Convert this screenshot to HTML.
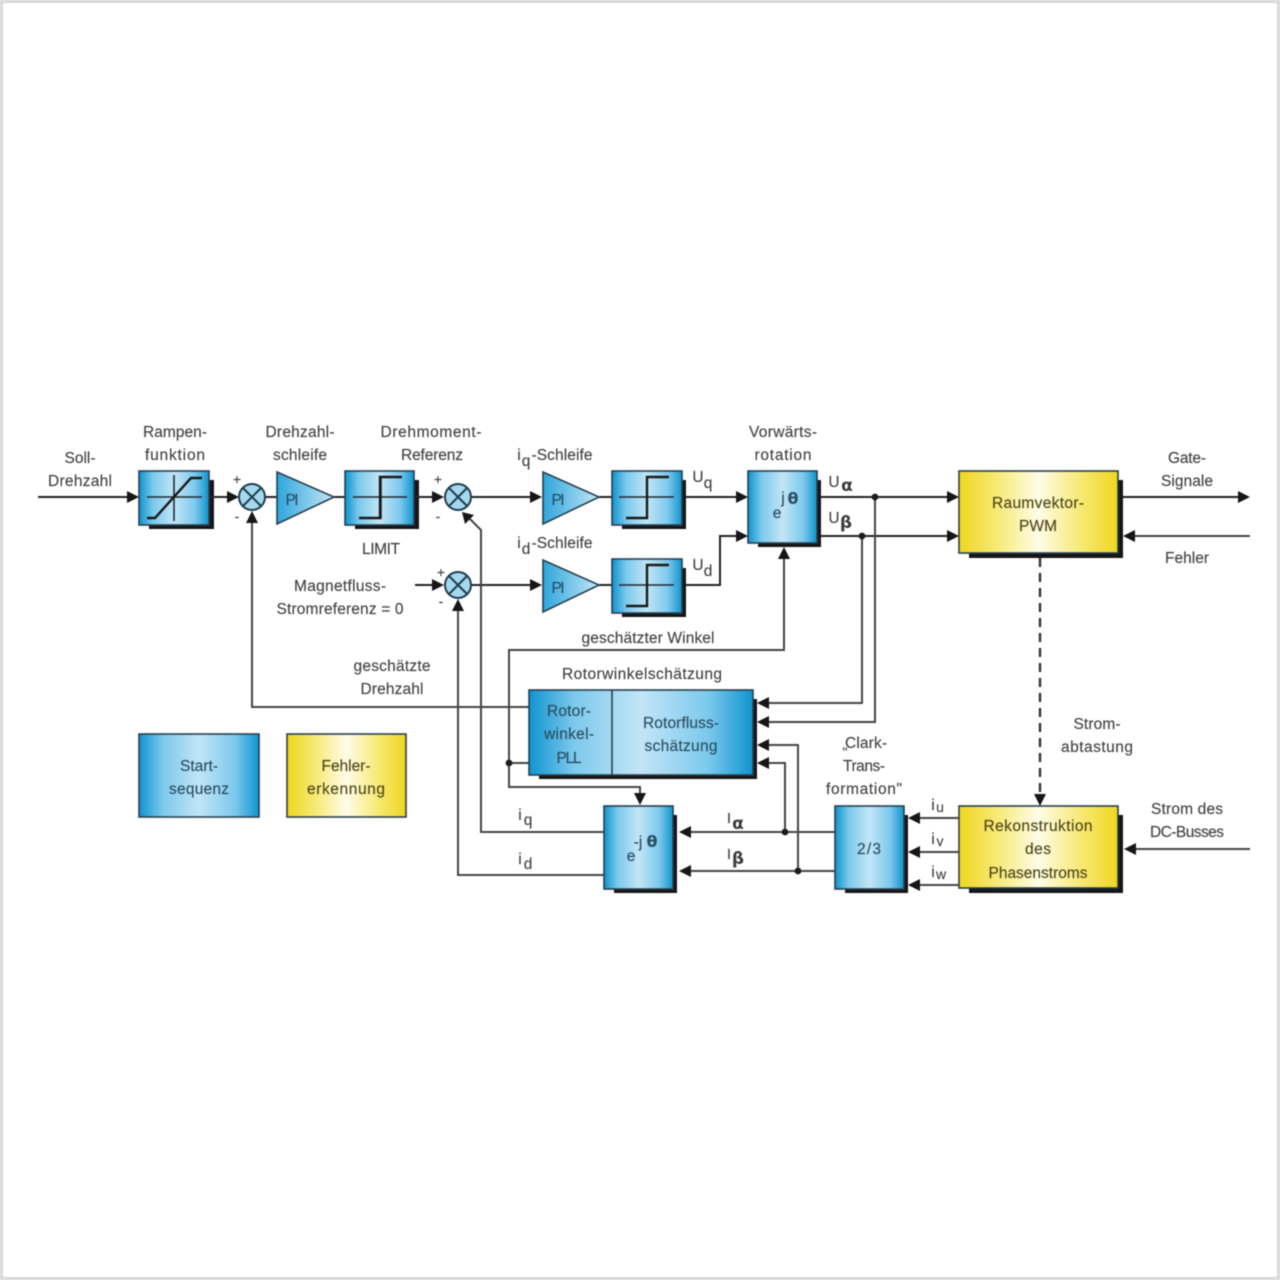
<!DOCTYPE html>
<html><head><meta charset="utf-8"><style>
html,body{margin:0;padding:0;background:#fff}
body{width:1280px;height:1280px;overflow:hidden}
svg{display:block;filter:blur(.55px)}
text{font-family:"Liberation Sans",sans-serif;font-size:15.5px;fill:#444;stroke:#444;stroke-width:.15;text-anchor:middle}
text.b{fill:#2a4f64;stroke:#2a4f64}
text.y{fill:#4f4818;stroke:#4f4818}
.l{fill:none;stroke:#444;stroke-width:2}
.k{fill:none;stroke:#222;stroke-width:2}
.box{stroke:#27404f;stroke-width:1.6}
text.g{font-family:"DejaVu Sans",sans-serif;font-weight:bold;font-size:17px;fill:#3c3c3c;stroke:none}
text.t{font-family:"DejaVu Sans",sans-serif;font-weight:bold;font-size:16px;fill:#2a4f64;stroke:none}
</style></head><body>
<svg width="1280" height="1280" viewBox="0 0 1280 1280" xmlns="http://www.w3.org/2000/svg">
<defs>
<linearGradient id="bl" x1="0" x2="1" y1="0" y2="0"><stop offset="0" stop-color="#0f94d0"/><stop offset=".2" stop-color="#7cc9ec"/><stop offset=".5" stop-color="#c2e5f6"/><stop offset=".8" stop-color="#7cc9ec"/><stop offset="1" stop-color="#0f94d0"/></linearGradient>
<linearGradient id="ye" x1="0" x2="1" y1="0" y2="0"><stop offset="0" stop-color="#efd61e"/><stop offset=".25" stop-color="#f7ea7a"/><stop offset=".5" stop-color="#fffce8"/><stop offset=".75" stop-color="#f7ea7a"/><stop offset="1" stop-color="#efd61e"/></linearGradient>
<linearGradient id="tr" x1="0" x2="1" y1="0" y2="0"><stop offset="0" stop-color="#2ea6dd"/><stop offset="1" stop-color="#c5e6f6"/></linearGradient>
</defs>
<rect x="1.5" y="1.5" width="1277" height="1277" fill="#fff" stroke="#d8d8d8" stroke-width="3"/>

<!-- shadows -->
<g fill="#161616">
<rect x="149" y="480" width="65" height="49"/>
<rect x="355" y="480" width="64" height="49"/>
<rect x="622" y="480" width="64" height="49"/>
<rect x="622" y="568" width="64" height="49"/>
<rect x="758" y="480" width="63" height="67"/>
<rect x="969" y="480" width="154" height="78"/>
<rect x="539" y="699" width="218" height="80"/>
<rect x="614" y="815" width="63" height="78"/>
<rect x="845" y="815" width="63" height="78"/>
<rect x="969" y="815" width="154" height="78"/>
</g>

<!-- connectors -->
<g class="k">
<path d="M38 497H130"/><path d="M209 497H230"/><path d="M265 497H277"/><path d="M334 497H345"/><path d="M414 497H436"/>
<path d="M471 497H533"/><path d="M599 497H612"/><path d="M686 497H738"/>
<path d="M415 585H436"/><path d="M471 585H533"/><path d="M599 585H612"/>
<path d="M686 585H720V536H738"/>
<path d="M821 497H948"/><path d="M821 536H948"/>
<path d="M1123 497H1240"/>
</g>
<g class="l">
<path d="M1133 536H1250"/><path d="M1133 849H1250"/>
<path d="M529 707H252V520"/>
<path d="M784 558V650H509V787H640V795"/>
<path d="M529 763H509"/>
<path d="M604 832H481V530L470 519"/>
<path d="M604 875H458V608"/>
<path d="M835 832H690"/><path d="M835 871H690"/>
<path d="M785 832V763H768"/><path d="M798 871V745H768"/>
<path d="M875 497V722H768"/><path d="M862 536V703H768"/>
<path d="M959 818H918"/><path d="M959 852H918"/><path d="M959 885H918"/>
<path d="M1040 558V796" stroke="#333" stroke-width="2.4" stroke-dasharray="9 6"/>
</g>
<!-- dots -->
<g fill="#1c1c1c">
<circle cx="875" cy="497" r="3.4"/><circle cx="862" cy="536" r="3.4"/>
<circle cx="509" cy="763" r="3.4"/><circle cx="785" cy="832" r="3.4"/><circle cx="798" cy="871" r="3.4"/>
</g>
<!-- arrowheads -->
<g fill="#161616">
<path d="M139 497l-12-6v12z"/><path d="M239 497l-12-6v12z"/><path d="M444 497l-12-6v12z"/>
<path d="M542 497l-12-6v12z"/><path d="M748 497l-12-6v12z"/><path d="M748 536l-12-6v12z"/>
<path d="M444 585l-12-6v12z"/><path d="M542 585l-12-6v12z"/>
<path d="M959 497l-12-6v12z"/><path d="M959 536l-12-6v12z"/><path d="M1250 497l-12-6v12z"/>
<path d="M1123 536l12-6v12z"/><path d="M1124 849l12-6v12z"/>
<path d="M757 703l12-6v12z"/><path d="M757 722l12-6v12z"/><path d="M757 745l12-6v12z"/><path d="M757 763l12-6v12z"/>
<path d="M679 832l12-6v12z"/><path d="M679 871l12-6v12z"/>
<path d="M908 818l12-6v12z"/><path d="M908 852l12-6v12z"/><path d="M908 885l12-6v12z"/>
<path d="M252 511l-6 12h12z"/><path d="M458 599l-6 12h12z"/><path d="M784 547l-6 12h12z"/>
<path d="M640 805l-6-12h12z"/><path d="M1040 806l-6-12h12z"/>
<path d="M462 512l12 3-9 9z"/>
</g>

<!-- blocks -->
<g class="box" fill="url(#bl)">
<rect x="139" y="471" width="70" height="54"/>
<rect x="345" y="471" width="69" height="54"/>
<rect x="612" y="471" width="70" height="54"/>
<rect x="612" y="559" width="70" height="54"/>
<rect x="748" y="471" width="69" height="72"/>
<rect x="529" y="690" width="224" height="85"/>
<rect x="604" y="806" width="69" height="83"/>
<rect x="835" y="806" width="69" height="83"/>
<rect x="139" y="734" width="120" height="83"/>
</g>
<g class="box" fill="url(#ye)">
<rect x="959" y="471" width="159" height="82"/>
<rect x="959" y="806" width="159" height="82"/>
<rect x="287" y="734" width="119" height="83"/>
</g>
<path d="M612 690V775" stroke="#27404f" stroke-width="1.6"/>
<g class="box" fill="url(#tr)">
<path d="M277 472L334 497L277 524Z"/><path d="M543 472L599 497L543 524Z"/><path d="M543 560L599 585L543 612Z"/>
</g>
<!-- sums -->
<g fill="#a5d8ef" stroke="#1f3d4d" stroke-width="2">
<circle cx="252" cy="497" r="13"/><circle cx="458" cy="497" r="13"/><circle cx="458" cy="585" r="13"/>
<path d="M243 488l18 18M261 488l-18 18M449 488l18 18M467 488l-18 18M449 576l18 18M467 576l-18 18" fill="none"/>
</g>
<!-- block glyphs -->
<g fill="none" stroke="#1d2a33" stroke-width="1.6">
<path d="M147 497H202M174 475V521"/><path d="M353 497H407M381 477V519"/>
<path d="M619 497H674M647 477V519"/><path d="M619 585H674M647 565V607"/>
</g>
<g fill="none" stroke="#1a1a1a" stroke-width="2.4">
<path d="M147 518H155L191 478H202"/>
<path d="M359 518H380V477H402"/><path d="M626 518H647V477H669"/><path d="M626 606H647V565H669"/>
</g>

<!-- labels -->
<text x="80" y="463" textLength="31">Soll-</text><text x="80" y="486" textLength="64">Drehzahl</text>
<text x="175" y="437" textLength="64">Rampen-</text><text x="175" y="460" textLength="60">funktion</text>
<text x="300" y="437" textLength="69">Drehzahl-</text><text x="300" y="460" textLength="54">schleife</text>
<text x="431" y="437" textLength="101">Drehmoment-</text><text x="432" y="460" textLength="62">Referenz</text>
<text x="381" y="554" textLength="38">LIMIT</text>
<text x="340" y="591" textLength="92">Magnetfluss-</text><text x="340" y="614" textLength="127">Stromreferenz = 0</text>
<text x="237" y="484" style="font-size:14px">+</text><text x="237" y="521" style="font-size:14px">-</text>
<text x="438" y="484" style="font-size:14px">+</text><text x="438" y="521" style="font-size:14px">-</text>
<text x="441" y="577" style="font-size:14px">+</text><text x="441" y="606" style="font-size:14px">-</text>
<text x="519" y="460">i</text><text x="526" y="466">q</text><text x="562" y="460" textLength="61">-Schleife</text>
<text x="519" y="548">i</text><text x="526" y="554">d</text><text x="562" y="548" textLength="61">-Schleife</text>
<text x="783" y="437" textLength="68">Vorwärts-</text><text x="783" y="460" textLength="57">rotation</text>
<text x="698" y="482">U</text><text x="708" y="488">q</text>
<text x="698" y="570">U</text><text x="708" y="576">d</text>
<text x="834" y="487">U</text><text class="g" x="847" y="491">α</text>
<text x="834" y="523">U</text><text class="g" x="846" y="528">β</text>
<text class="b" x="777" y="518">e</text><text class="b" x="783" y="503">j</text><text class="t" x="793" y="504">θ</text>
<text x="648" y="643" textLength="133">geschätzter Winkel</text>
<text x="392" y="671" textLength="77">geschätzte</text><text x="392" y="694" textLength="63">Drehzahl</text>
<text x="642" y="679" textLength="160">Rotorwinkelschätzung</text>
<text class="b" x="569" y="716" textLength="44">Rotor-</text><text class="b" x="569" y="739" textLength="50">winkel-</text><text class="b" x="569" y="763" textLength="25">PLL</text>
<text class="b" x="681" y="728" textLength="76">Rotorfluss-</text><text class="b" x="681" y="751" textLength="73">schätzung</text>
<text class="b" x="199" y="771" textLength="38">Start-</text><text class="b" x="199" y="794" textLength="60">sequenz</text>
<text class="y" x="346" y="771" textLength="49">Fehler-</text><text class="y" x="346" y="794" textLength="78">erkennung</text>
<text class="b" x="292" y="505" textLength="13">PI</text><text class="b" x="558" y="505" textLength="13">PI</text><text class="b" x="558" y="593" textLength="13">PI</text>
<text x="520" y="820">i</text><text x="528" y="825">q</text>
<text x="520" y="864">i</text><text x="528" y="869">d</text>
<text class="b" x="631" y="861">e</text><text class="b" x="638" y="847">-j</text><text class="t" x="652" y="847">θ</text>
<text x="729" y="823" style="font-size:15px">I</text><text class="g" x="738" y="829">α</text>
<text x="729" y="859" style="font-size:15px">I</text><text class="g" x="738" y="864">β</text>
<text x="866" y="748" textLength="42">Clark-</text><text x="864" y="771" textLength="42">Trans-</text><text x="864" y="794" textLength="76">formation"</text>
<text x="845" y="757" style="font-size:14px">"</text>
<text class="b" x="869" y="854" textLength="24">2/3</text>
<text x="933" y="810">i</text><text x="940" y="812" style="font-size:14px">u</text>
<text x="933" y="844">i</text><text x="940" y="846" style="font-size:14px">v</text>
<text x="933" y="877">i</text><text x="941" y="879" style="font-size:14px">w</text>
<text class="y" x="1038" y="508" textLength="92">Raumvektor-</text><text class="y" x="1038" y="531" textLength="38">PWM</text>
<text class="y" x="1038" y="831" textLength="109">Rekonstruktion</text><text class="y" x="1038" y="854" textLength="26">des</text><text class="y" x="1038" y="878" textLength="99">Phasenstroms</text>
<text x="1187" y="463" textLength="38">Gate-</text><text x="1187" y="486" textLength="52">Signale</text>
<text x="1187" y="563" textLength="44">Fehler</text>
<text x="1097" y="729" textLength="47">Strom-</text><text x="1097" y="752" textLength="72">abtastung</text>
<text x="1187" y="814" textLength="72">Strom des</text><text x="1187" y="837" textLength="74">DC-Busses</text>
</svg>
</body></html>
